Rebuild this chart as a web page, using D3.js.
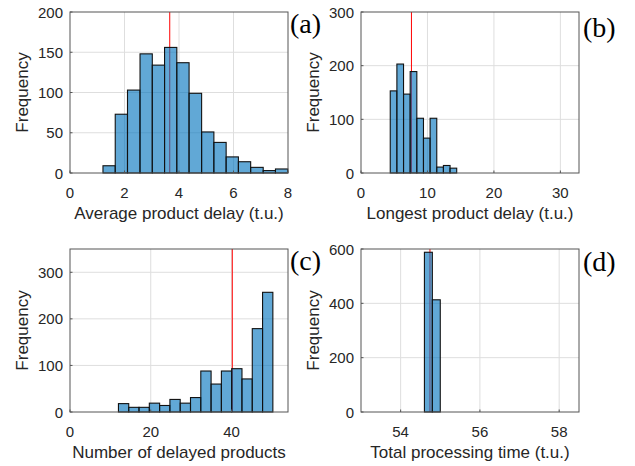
<!DOCTYPE html>
<html>
<head>
<meta charset="utf-8">
<script src="https://cdn.jsdelivr.net/npm/d3@7"></script>
<style>
  html, body { margin: 0; padding: 0; background: #fff; }
  svg text { font-family: "Liberation Sans", Arial, sans-serif; }
</style>
</head>
<body>
<svg id="chart" width="635" height="466"></svg>
<script>
// ---------- Data ----------
// (a) Average product delay
const aEdges  = [1.21,1.66,2.11,2.57,3.02,3.47,3.92,4.37,4.83,5.28,5.73,6.18,6.63,7.09,7.54,7.99];
const aCounts = [9,73,103,148,134,156,137,99,51,38,20,14,7,3,5];
const aMean   = 3.66;
const aXTicks = [0,2,4,6,8];
const aYTicks = [0,50,100,150,200];

// (b) Longest product delay
const bEdges  = [4.4,5.4,6.4,7.4,8.4,9.4,10.4,11.4,12.4,13.4,14.4];
const bCounts = [153,203,147,189,102,65,102,11,14,9];
const bMean   = 7.59;
const bXTicks = [0,10,20,30];
const bYTicks = [0,100,200,300];

// (c) Number of delayed products
const cEdges  = [12,14.55,17.1,19.65,22.2,24.75,27.3,29.85,32.4,34.95,37.5,40.05,42.6,45.15,47.7,50.25];
const cCounts = [18,10,10,19,14,27,19,31,88,60,88,93,71,179,257];
const cMean   = 40.2;
const cXTicks = [0,20,40];
const cYTicks = [0,100,200,300];

// (d) Total processing time
const dEdges  = [54.6,54.8,55.0];
const dCounts = [588,413];
const dMean   = 54.74;
const dXTicks = [54,56,58];
const dYTicks = [0,200,400,600];

const panels = [
  {edges:aEdges, counts:aCounts, mean:aMean, xTicks:aXTicks, yTicks:aYTicks,
   xDom:[0,8], yDom:[0,200], xLabel:"Average product delay (t.u.)", tag:"(a)",
   box:{l:70,r:288,t:12,b:173}, tagPos:[290,33]},
  {edges:bEdges, counts:bCounts, mean:bMean, xTicks:bXTicks, yTicks:bYTicks,
   xDom:[0,32.8], yDom:[0,300], xLabel:"Longest product delay (t.u.)", tag:"(b)",
   box:{l:361,r:579,t:12,b:173}, tagPos:[583,37]},
  {edges:cEdges, counts:cCounts, mean:cMean, xTicks:cXTicks, yTicks:cYTicks,
   xDom:[0,54], yDom:[0,350], xLabel:"Number of delayed products", tag:"(c)",
   box:{l:70,r:288,t:249,b:412}, tagPos:[290,270]},
  {edges:dEdges, counts:dCounts, mean:dMean, xTicks:dXTicks, yTicks:dYTicks,
   xDom:[53,58.5], yDom:[0,600], xLabel:"Total processing time (t.u.)", tag:"(d)",
   box:{l:361,r:579,t:249,b:412}, tagPos:[583,271]}
];

const svg = d3.select("#chart");
const textColor = "#262626";

panels.forEach(p => {
  const {l,r,t,b} = p.box;
  const x = d3.scaleLinear().domain(p.xDom).range([l,r]);
  const y = d3.scaleLinear().domain(p.yDom).range([b,t]);
  const g = svg.append("g");

  // grid
  g.selectAll(".gx").data(p.xTicks.filter(v => x(v) > l+1 && x(v) < r-1)).join("line")
    .attr("x1", d => x(d)).attr("x2", d => x(d)).attr("y1", t).attr("y2", b)
    .attr("stroke", "#dedede").attr("stroke-width", 1);
  g.selectAll(".gy").data(p.yTicks.filter(v => y(v) > t+1 && y(v) < b-1)).join("line")
    .attr("x1", l).attr("x2", r).attr("y1", d => y(d)).attr("y2", d => y(d))
    .attr("stroke", "#dedede").attr("stroke-width", 1);

  // mean line (drawn beneath translucent bars)
  g.append("line")
    .attr("x1", x(p.mean)).attr("x2", x(p.mean)).attr("y1", t).attr("y2", b)
    .attr("stroke", "#ff0000").attr("stroke-width", 1);

  // bars
  const bins = p.counts.map((c,i) => ({x0:p.edges[i], x1:p.edges[i+1], c}));
  g.selectAll(".bar").data(bins).join("rect")
    .attr("x", d => x(d.x0)).attr("width", d => x(d.x1) - x(d.x0))
    .attr("y", d => y(d.c)).attr("height", d => y(0) - y(d.c))
    .attr("fill", "#0072BD").attr("fill-opacity", 0.62)
    .attr("stroke", "#111").attr("stroke-width", 1.1);

  // box
  g.append("rect").attr("x", l).attr("y", t).attr("width", r-l).attr("height", b-t)
    .attr("fill", "none").attr("stroke", "#555").attr("stroke-width", 1);

  // ticks (inward)
  g.selectAll(".tx").data(p.xTicks).join("line")
    .attr("x1", d => x(d)).attr("x2", d => x(d)).attr("y1", b).attr("y2", b-2.5)
    .attr("stroke", "#555");
  g.selectAll(".ty").data(p.yTicks).join("line")
    .attr("x1", l).attr("x2", l+2.5).attr("y1", d => y(d)).attr("y2", d => y(d))
    .attr("stroke", "#555");

  // tick labels
  g.selectAll(".lx").data(p.xTicks).join("text")
    .attr("x", d => x(d)).attr("y", b + 25)
    .attr("text-anchor", "middle").attr("font-size", 15).attr("fill", textColor)
    .text(d => d);
  g.selectAll(".ly").data(p.yTicks).join("text")
    .attr("x", l - 7).attr("y", d => y(d) + 5.5)
    .attr("text-anchor", "end").attr("font-size", 15).attr("fill", textColor)
    .text(d => d);

  // axis labels
  g.append("text")
    .attr("x", (l+r)/2).attr("y", b + 46)
    .attr("text-anchor", "middle").attr("font-size", 17).attr("fill", textColor)
    .text(p.xLabel);
  g.append("text")
    .attr("transform", `translate(${l-42},${(t+b)/2}) rotate(-90)`)
    .attr("text-anchor", "middle").attr("font-size", 17).attr("fill", textColor)
    .text("Frequency");

  // panel tag
  g.append("text")
    .attr("x", p.tagPos[0]).attr("y", p.tagPos[1])
    .attr("font-family", "'Liberation Serif', 'Times New Roman', serif")
    .style("font-family", "'Liberation Serif', 'Times New Roman', serif")
    .attr("font-size", 28).attr("fill", "#000")
    .text(p.tag);
});
</script>
</body>
</html>
